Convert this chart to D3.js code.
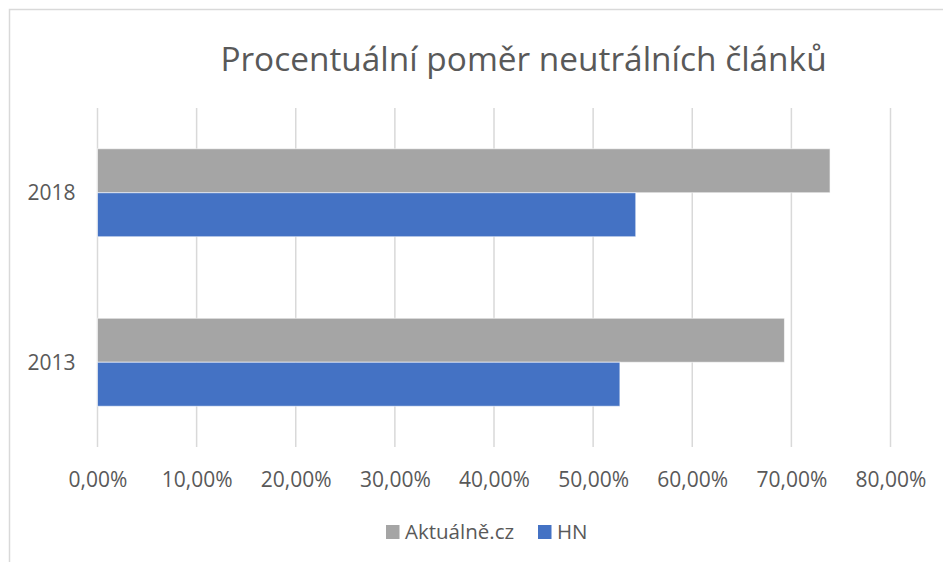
<!DOCTYPE html>
<html>
<head>
<meta charset="utf-8">
<script src="https://cdn.jsdelivr.net/npm/d3@7"></script>
<style>
  body { margin: 0; background: #fff; }
  text { font-family: "Open Sans", sans-serif; fill: #595959; }
</style>
</head>
<body>
<div id="chart"></div>
<script>
(function() {
  'use strict';
  var years = ['2018', '2013'];
  var seriesNames = ['Aktuálně.cz', 'HN'];
  var aktualne = [0.739, 0.693];
  var hn = [0.543, 0.527];
  var ticks = [0, 0.1, 0.2, 0.3, 0.4, 0.5, 0.6, 0.7, 0.8];
  var colors = ['#a5a5a5', '#4472c4'];

  var W = 943, H = 562;
  var margin = {top: 108, left: 97.5, right: W - 890.5, bottom: H - 447};
  var width = W - margin.left - margin.right,
    height = H - margin.top - margin.bottom;

  var svg = d3.select('#chart').append('svg')
    .attr('width', W)
    .attr('height', H);

  // chart frame (only top and left edges show)
  svg.append('path')
    .attr('d', 'M9.5,' + H + 'V9.5H' + W)
    .attr('fill', 'none')
    .attr('stroke', '#d9d9d9')
    .attr('stroke-width', 1.5);

  svg.append('text')
    .attr('x', 523.5)
    .attr('y', 71)
    .attr('text-anchor', 'middle')
    .style('font-size', '33.4px')
    .text('Procentuální poměr neutrálních článků');

  var g = svg.append('g')
    .attr('transform', 'translate(' + margin.left + ',' + margin.top + ')');

  var x = d3.scaleLinear().domain([0, 0.8]).range([0, width]);
  var y = d3.scaleBand().domain(years).range([0, height]).paddingInner(0).paddingOuter(0);
  var inner = d3.scaleBand().domain(seriesNames).range([0, 88]);

  // gridlines
  g.selectAll('line.grid')
    .data(ticks)
    .enter().append('line')
    .attr('class', 'grid')
    .attr('x1', function(d) {return x(d);})
    .attr('x2', function(d) {return x(d);})
    .attr('y1', 0)
    .attr('y2', height)
    .attr('stroke', '#d9d9d9')
    .attr('stroke-width', 1.5);

  var rows = years.map(function(yr, i) {
    return {year: yr, values: [aktualne[i], hn[i]]};
  });

  var groups = g.selectAll('g.year')
    .data(rows)
    .enter().append('g')
    .attr('class', 'year')
    .attr('transform', function(d) {
      return 'translate(0,' + (y(d.year) + y.bandwidth() / 2 - 44) + ')';
    });

  groups.selectAll('rect')
    .data(function(d) {
      return d.values.map(function(v, j) {return {name: seriesNames[j], value: v, c: colors[j]};});
    })
    .enter().append('rect')
    .attr('x', 0)
    .attr('y', function(d) {return inner(d.name);})
    .attr('width', function(d) {return x(d.value);})
    .attr('height', inner.bandwidth())
    .attr('fill', function(d) {return d.c;})
    .attr('stroke', '#fff')
    .attr('stroke-opacity', 0.6)
    .attr('stroke-width', 1);

  // x axis labels
  var xAxis = d3.axisBottom(x)
    .tickValues(ticks)
    .tickSize(0)
    .tickPadding(0)
    .tickFormat(function(d) {return d3.format('.2f')(d * 100).replace('.', ',') + '%';});

  var xa = g.append('g')
    .attr('transform', 'translate(0,' + height + ')')
    .call(xAxis);
  xa.select('.domain').remove();
  xa.selectAll('text')
    .attr('dy', null)
    .attr('y', 40)
    .style('font-size', '21px');

  // y axis labels
  var yAxis = d3.axisLeft(y).tickSize(0).tickPadding(0);
  var ya = g.append('g').call(yAxis);
  ya.select('.domain').remove();
  ya.selectAll('text')
    .attr('x', -22)
    .attr('dy', '0.35em')
    .style('font-size', '21px');

  // legend
  var legendX = [386, 538];
  var legend = svg.selectAll('g.legend')
    .data(seriesNames)
    .enter().append('g')
    .attr('class', 'legend')
    .attr('transform', function(d, i) {return 'translate(' + legendX[i] + ',525)';});
  legend.append('rect')
    .attr('width', 13.5)
    .attr('height', 14)
    .attr('fill', function(d, i) {return colors[i];});
  legend.append('text')
    .attr('x', 19)
    .attr('y', 14)
    .style('font-size', '20.5px')
    .text(function(d) {return d;});
})();
</script>
</body>
</html>
